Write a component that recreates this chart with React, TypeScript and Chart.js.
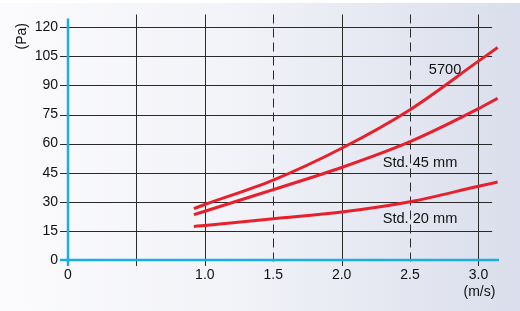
import React, { useEffect, useRef } from "react";
import { Chart, registerables } from "chart.js";

Chart.register(...registerables);

// Data
const speedPoints = [0.92, 1.0, 1.5, 2.0, 2.5, 3.0, 3.14];
const series5700 = [26.5, 28.6, 41.2, 57.6, 77.5, 102.5, 109.5];
const seriesStd45 = [23.4, 25.1, 36.3, 47.7, 61, 78, 83.4];
const seriesStd20 = [17.3, 17.8, 21.3, 24.7, 30, 38, 40.2];

const yTicks = [0, 15, 30, 45, 60, 75, 90, 105, 120];
const xGridValues = [0.5, 1.0, 1.5, 2.0, 2.5, 3.0];
const xTickLabels = [
  { v: 0, t: "0" },
  { v: 1.0, t: "1.0" },
  { v: 1.5, t: "1.5" },
  { v: 2.0, t: "2.0" },
  { v: 2.5, t: "2.5" },
  { v: 3.0, t: "3.0" },
];
const dashedX = [1.5, 2.5];
const curveLabels = [
  { text: "5700", x: 2.756, y: 98, align: "center" },
  { text: "Std. 45 mm", x: 2.3, y: 50, align: "left" },
  { text: "Std. 20 mm", x: 2.3, y: 21.1, align: "left" },
];
const yUnit = "(Pa)";
const xUnit = "(m/s)";

const FAMILY = '"Liberation Sans", Arial, Helvetica, sans-serif';
const TICK_FONT = "14px " + FAMILY;
const LABEL_FONT = "14.6px " + FAMILY;
const CYAN = "#1aaee6";
const RED = "#e8202c";
const GRID = "#2a2a2a";

const decorPlugin = {
  id: "decor",
  beforeDraw(chart: any) {
    const { ctx, width, height } = chart;
    ctx.save();
    ctx.fillStyle = "#ffffff";
    ctx.fillRect(0, 0, width, height);
    const g = ctx.createLinearGradient(0, 0, width, 0);
    g.addColorStop(0, "#fbfbfd");
    g.addColorStop(0.45, "#f2f3f8");
    g.addColorStop(1, "#dadeec");
    ctx.fillStyle = g;
    ctx.fillRect(0, 3, width, height - 3);
    ctx.restore();
  },
  beforeDatasetsDraw(chart: any) {
    const { ctx, scales } = chart;
    const xs = scales.x;
    const ys = scales.y;
    const x0 = xs.getPixelForValue(0);
    const y0 = ys.getPixelForValue(0);
    const xEndGrid = xs.getPixelForValue(3.1);
    const xEndAxis = xs.getPixelForValue(3.15);
    const yTop = ys.getPixelForValue(125);
    ctx.save();
    ctx.strokeStyle = GRID;
    ctx.lineWidth = 1;
    yTicks.forEach((v) => {
      if (v === 0) return;
      const y = Math.round(ys.getPixelForValue(v)) + 0.5;
      ctx.beginPath();
      ctx.moveTo(x0 - 8, y);
      ctx.lineTo(xEndGrid, y);
      ctx.stroke();
    });
    xGridValues.forEach((v) => {
      const x = Math.round(xs.getPixelForValue(v)) + 0.5;
      ctx.setLineDash(dashedX.includes(v) ? [9, 5] : []);
      ctx.beginPath();
      ctx.moveTo(x, yTop - 3);
      ctx.lineTo(x, y0 + 6);
      ctx.stroke();
    });
    ctx.setLineDash([]);
    ctx.strokeStyle = CYAN;
    ctx.lineWidth = 2.5;
    ctx.beginPath();
    ctx.moveTo(x0 - 8, y0);
    ctx.lineTo(xEndAxis, y0);
    ctx.stroke();
    ctx.beginPath();
    ctx.moveTo(x0, yTop + 1);
    ctx.lineTo(x0, y0 + 6);
    ctx.stroke();
    ctx.restore();
  },
  afterDraw(chart: any) {
    const { ctx, scales } = chart;
    const xs = scales.x;
    const ys = scales.y;
    const x0 = xs.getPixelForValue(0);
    const y0 = ys.getPixelForValue(0);
    ctx.save();
    ctx.fillStyle = "#111111";
    ctx.font = TICK_FONT;
    ctx.textAlign = "right";
    ctx.textBaseline = "middle";
    yTicks.forEach((v) => {
      ctx.fillText(String(v), x0 - 10, ys.getPixelForValue(v));
    });
    ctx.textAlign = "center";
    xTickLabels.forEach((t) => {
      ctx.fillText(t.t, xs.getPixelForValue(t.v), y0 + 15.5);
    });
    ctx.fillText(xUnit, xs.getPixelForValue(3.0) + 1, y0 + 32.5);
    ctx.save();
    ctx.translate(22, ys.getPixelForValue(120) + 9);
    ctx.rotate(-Math.PI / 2);
    ctx.textAlign = "center";
    ctx.fillText(yUnit, 0, 0);
    ctx.restore();
    ctx.font = LABEL_FONT;
    curveLabels.forEach((l) => {
      ctx.textAlign = l.align as CanvasTextAlign;
      ctx.fillText(l.text, xs.getPixelForValue(l.x), ys.getPixelForValue(l.y));
    });
    ctx.restore();
  },
};

function toPoints(ys: number[]) {
  return speedPoints.map((x, i) => ({ x, y: ys[i] }));
}

export default function App() {
  const ref = useRef<HTMLCanvasElement | null>(null);
  useEffect(() => {
    if (!ref.current) return;
    const ds = (label: string, vals: number[]) => ({
      label,
      data: toPoints(vals),
      borderColor: RED,
      borderWidth: 3,
      pointRadius: 0,
      fill: false,
      tension: 0.4,
      cubicInterpolationMode: "monotone" as const,
      borderCapStyle: "butt" as const,
    });
    const chart = new Chart(ref.current, {
      type: "line",
      data: {
        datasets: [
          ds("5700", series5700),
          ds("Std. 45 mm", seriesStd45),
          ds("Std. 20 mm", seriesStd20),
        ],
      },
      options: {
        responsive: false,
        animation: false,
        devicePixelRatio: 1,
        layout: { padding: { left: 68, right: 21, top: 17.5, bottom: 51 } },
        plugins: { legend: { display: false }, tooltip: { enabled: false } },
        scales: {
          x: { type: "linear", min: 0, max: 3.15, display: false },
          y: { type: "linear", min: 0, max: 125, display: false },
        },
      },
      plugins: [decorPlugin],
    });
    return () => chart.destroy();
  }, []);
  return (
    <canvas
      ref={ref}
      width={520}
      height={311}
      style={{ position: "fixed", left: 0, top: 0, width: 520, height: 311 }}
    />
  );
}
